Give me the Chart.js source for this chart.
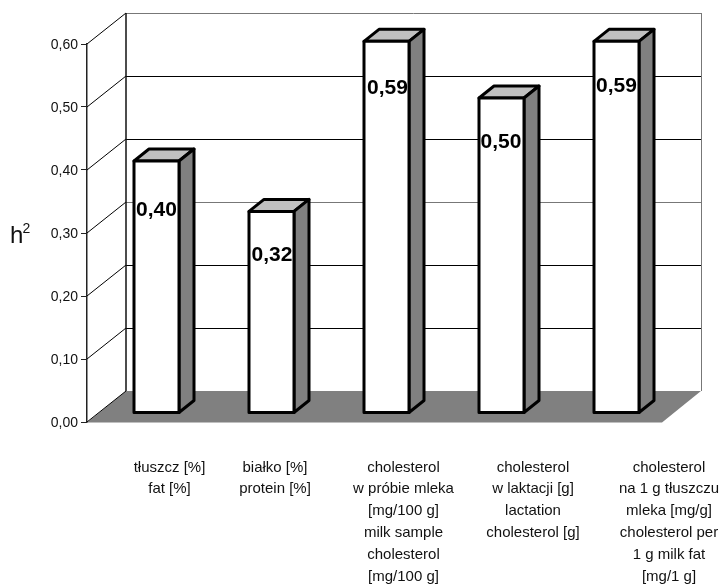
<!DOCTYPE html>
<html>
<head>
<meta charset="utf-8">
<title>h2</title>
<script src="https://cdn.jsdelivr.net/npm/chart.js@4"></script>
<style>
  html, body { margin: 0; padding: 0; background: #fff; }
  canvas { display: block; }
</style>
</head>
<body>
<canvas id="chart" width="723" height="585"></canvas>
<script>
const categories = [
  ["tłuszcz [%]", "fat [%]"],
  ["białko [%]", "protein [%]"],
  ["cholesterol", "w próbie mleka", "[mg/100 g]", "milk sample", "cholesterol", "[mg/100 g]"],
  ["cholesterol", "w laktacji [g]", "lactation", "cholesterol [g]"],
  ["cholesterol", "na 1 g tłuszczu", "mleka [mg/g]", "cholesterol per", "1 g milk fat", "[mg/1 g]"],
];
const heritability = [0.40, 0.32, 0.59, 0.50, 0.59];
const yTicks = [0, 0.1, 0.2, 0.3, 0.4, 0.5, 0.6];

// Depth of the box and of the bars, in pixels
const WALL_DX = 39, WALL_DY = -31;
const BAR_SHIFT_X = 12, BAR_SHIFT_Y = -9;
const BAR_DX = 15, BAR_DY = -12;
const BAR_LINE = 3;

// Category captions sit right of their bars, by a different amount each
const captionShift = [25, 15.5, 29, 43.5, 64.5];
const valueLabelDrop = [49, 44, 47, 44, 45];
const valueLabelNudge = [0, 0.5, 1, -0.5, 0];

const comma = (v) => v.toFixed(2).replace(".", ",");

function polygon(ctx, pts) {
  ctx.beginPath();
  pts.forEach((p, i) => (i ? ctx.lineTo(p[0], p[1]) : ctx.moveTo(p[0], p[1])));
  ctx.closePath();
}

const box3d = {
  id: "box3d",
  beforeDatasetsDraw(chart) {
    const ctx = chart.ctx;
    const { left, right, top, bottom } = chart.chartArea;
    const yScale = chart.scales.y;

    ctx.save();
    // Floor
    ctx.fillStyle = "#808080";
    polygon(ctx, [
      [left, bottom + 0.5],
      [left + WALL_DX, bottom + WALL_DY],
      [right + WALL_DX, bottom + WALL_DY],
      [right, bottom + 0.5],
    ]);
    ctx.fill();

    // Gridlines on the side wall and the back wall
    yTicks.forEach((t) => {
      const y = Math.round(yScale.getPixelForValue(t));
      ctx.strokeStyle = "#000";
      ctx.lineWidth = 1;
      ctx.beginPath();
      ctx.moveTo(left, y);
      ctx.lineTo(left + WALL_DX, y + WALL_DY);
      ctx.stroke();
      if (t > 0) {
        ctx.strokeStyle = t === 0.3 || t === 0.6 ? "#777" : "#000";
        ctx.beginPath();
        ctx.moveTo(left + WALL_DX, y + WALL_DY + 0.5);
        ctx.lineTo(right + WALL_DX, y + WALL_DY + 0.5);
        ctx.stroke();
      }
    });

    // Back wall edges
    ctx.strokeStyle = "#111";
    ctx.lineWidth = 1.5;
    ctx.beginPath();
    ctx.moveTo(left + WALL_DX, top + WALL_DY);
    ctx.lineTo(left + WALL_DX, bottom + WALL_DY);
    ctx.stroke();
    ctx.strokeStyle = "#777";
    ctx.lineWidth = 1;
    ctx.beginPath();
    ctx.moveTo(right + WALL_DX + 0.5, top + WALL_DY);
    ctx.lineTo(right + WALL_DX + 0.5, bottom + WALL_DY);
    ctx.stroke();
    ctx.restore();

    // Bars get drawn on a plane in front of the back wall
    ctx.save();
    ctx.translate(BAR_SHIFT_X, BAR_SHIFT_Y);
    ctx.lineWidth = BAR_LINE;
    ctx.strokeStyle = "#000";
    ctx.lineJoin = "round";
    chart.getDatasetMeta(0).data.forEach((bar) => {
      const l = bar.x - bar.width / 2;
      const r = bar.x + bar.width / 2;
      // top face
      ctx.fillStyle = "#c0c0c0";
      polygon(ctx, [[l, bar.y], [l + BAR_DX, bar.y + BAR_DY], [r + BAR_DX, bar.y + BAR_DY], [r, bar.y]]);
      ctx.fill();
      ctx.stroke();
      // side face
      ctx.fillStyle = "#808080";
      polygon(ctx, [[r, bar.y], [r + BAR_DX, bar.y + BAR_DY], [r + BAR_DX, bar.base + BAR_DY], [r, bar.base]]);
      ctx.fill();
      ctx.stroke();
    });
  },
  afterDatasetsDraw(chart) {
    const ctx = chart.ctx;
    // Outline of the front faces, centred on their edges
    chart.getDatasetMeta(0).data.forEach((bar) => {
      ctx.strokeRect(bar.x - bar.width / 2, bar.y, bar.width, bar.base - bar.y);
    });
    ctx.restore(); // drops the bar plane translation

    ctx.save();
    ctx.fillStyle = "#000";
    ctx.textAlign = "center";
    ctx.textBaseline = "middle";

    // Values inside the bars
    ctx.font = "bold 21px 'Liberation Sans', Arial, sans-serif";
    chart.getDatasetMeta(0).data.forEach((bar, i) => {
      ctx.fillText(comma(heritability[i]), bar.x + BAR_SHIFT_X + valueLabelNudge[i], bar.y + BAR_SHIFT_Y + valueLabelDrop[i]);
    });

    // Captions under the floor
    ctx.fillStyle = "#111";
    ctx.font = "15px 'Liberation Sans', Arial, sans-serif";
    chart.data.labels.forEach((lines, i) => {
      const x = chart.scales.x.getPixelForValue(i) + captionShift[i];
      lines.forEach((line, n) => ctx.fillText(line, x, 467.5 + n * 21.8));
    });

    // Axis title with its superscript
    ctx.textAlign = "left";
    ctx.textBaseline = "alphabetic";
    ctx.font = "24px 'Liberation Sans', Arial, sans-serif";
    ctx.fillText("h", 10, 243);
    ctx.font = "14px 'Liberation Sans', Arial, sans-serif";
    ctx.fillText("2", 22.5, 233);
    ctx.restore();
  },
};

new Chart(document.getElementById("chart"), {
  type: "bar",
  data: {
    labels: categories,
    datasets: [
      {
        label: "h2",
        data: heritability,
        backgroundColor: "#fff",
        borderWidth: 0,
        barThickness: 45,
        clip: false,
      },
    ],
  },
  options: {
    responsive: false,
    animation: false,
    layout: { padding: { top: 44, right: 61, bottom: 163 } },
    plugins: { legend: { display: false }, tooltip: { enabled: false } },
    scales: {
      x: { display: false },
      y: {
        min: 0,
        max: 0.6,
        afterFit: (scale) => { scale.width = 87; },
        afterBuildTicks: (scale) => { scale.ticks = yTicks.map((value) => ({ value })); },
        grid: { drawOnChartArea: false, color: "#222", tickLength: 6 },
        border: { color: "#222", width: 1.5 },
        ticks: {
          padding: 3,
          labelOffset: 1,
          color: "#111",
          font: { family: "'Liberation Sans', Arial, sans-serif", size: 14 },
          callback: (v) => comma(v),
        },
      },
    },
  },
  plugins: [box3d],
});
</script>
</body>
</html>
